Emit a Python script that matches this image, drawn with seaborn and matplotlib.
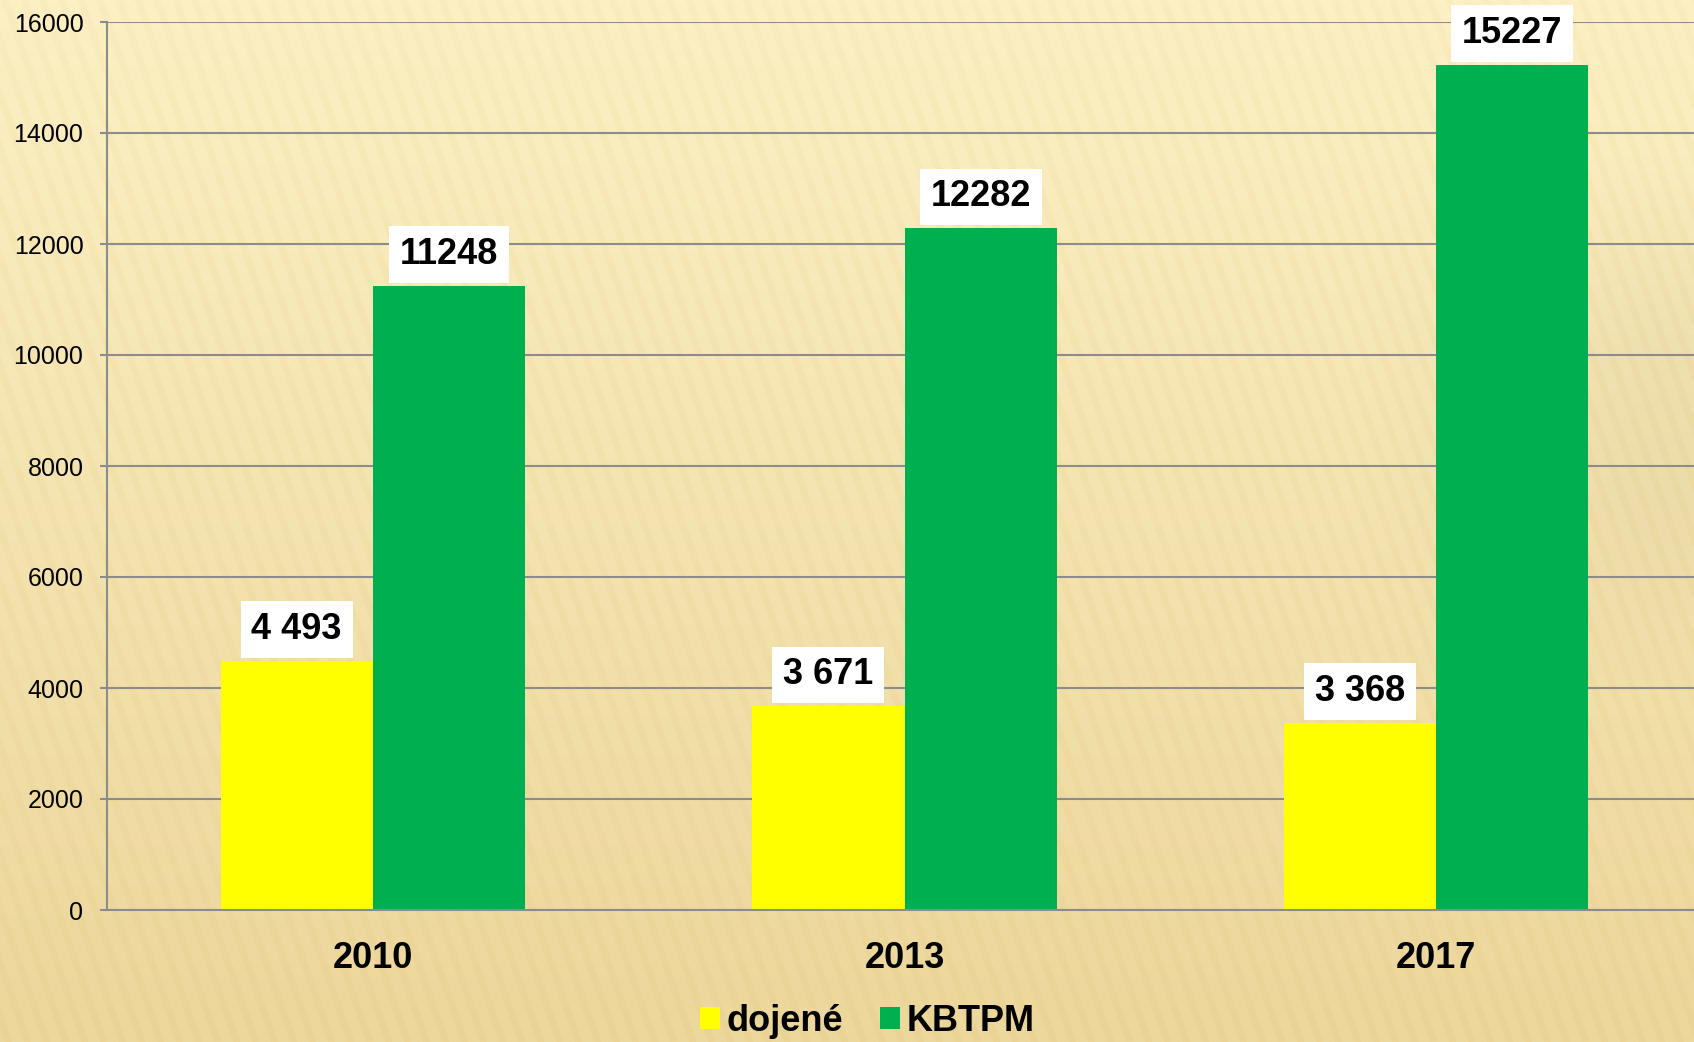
import pandas as pd
import seaborn as sns
import matplotlib.pyplot as plt
import numpy as np

years = ['2010', '2013', '2017']
dojene = [4493, 3671, 3368]
kbtpm = [11248, 12282, 15227]
dojene_labels = ['4 493', '3 671', '3 368']
kbtpm_labels = ['11248', '12282', '15227']

data = pd.DataFrame({
    'year': years * 2,
    'val': dojene + kbtpm,
    'series': ['dojené'] * 3 + ['KBTPM'] * 3,
})

sns.set_style("white")
plt.rcParams['font.family'] = ['Liberation Sans', 'DejaVu Sans']
plt.rcParams['text.color'] = 'black'
plt.rcParams['xtick.color'] = 'black'
plt.rcParams['ytick.color'] = 'black'

fig = plt.figure(figsize=(16.94, 10.42), dpi=100)

# background texture: warm gradient with slanted stripes
bg = fig.add_axes([0, 0, 1, 1], zorder=-10)
h, w = 1042, 1694
yy, xx = np.mgrid[0:h, 0:w]
t = yy / h
base = np.zeros((h, w, 3))
top = np.array([252, 240, 196]) / 255
bot = np.array([236, 215, 156]) / 255
for c in range(3):
    base[..., c] = top[c] * (1 - t) + bot[c] * t
stripes = np.sin(2 * np.pi * (xx - 0.35 * yy) / 19.0)
base -= (0.025 * (stripes > 0.3))[..., None] * np.array([0.3, 0.6, 1.0])
corner = np.clip((xx - 1350) / 300, 0, 1) * np.clip((yy - 150) / 200, 0, 1) * np.clip((700 - yy) / 200, 0, 1)
base -= (0.03 * corner)[..., None]
bg.imshow(np.clip(base, 0, 1), aspect='auto', interpolation='bilinear')
bg.axis('off')

ax = fig.add_axes([107 / 1694, 132 / 1042, 1595 / 1694, 888 / 1042])
ax.patch.set_alpha(0)

sns.barplot(x='year', y='val', hue='series', data=data,
            palette=['#FFFF00', '#00B050'], width=0.573, gap=0,
            saturation=1, linewidth=0, ax=ax)

ax.set_xlim(-0.5, 2.5)
ax.set_ylim(0, 16000)
ax.set_yticks(np.arange(0, 16001, 2000))
ax.set_yticklabels([str(v) for v in range(0, 16001, 2000)], fontsize=18)
ax.yaxis.grid(True, color='#8c8c8c', linewidth=1.5)
ax.set_axisbelow(True)
ax.set_xlabel('')
ax.set_ylabel('')
ax.set_xticks(range(3))
ax.set_xticklabels(years, fontsize=26, fontweight='bold')
ax.set_xticks([-0.5, 0.5, 1.5, 2.5], minor=True)
ax.tick_params(axis='x', which='major', length=0, pad=22)
ax.tick_params(axis='x', which='minor', length=7, width=1.5, color='#8c8c8c', direction='out')
ax.tick_params(axis='y', length=5, width=1.5, color='#8c8c8c', labelcolor='black',
               direction='out', pad=12, left=True)
for s in ['top', 'right']:
    ax.spines[s].set_visible(False)
ax.spines['left'].set_color('#8c8c8c')
ax.spines['left'].set_linewidth(1.5)
ax.spines['bottom'].set_color('#8c8c8c')
ax.spines['bottom'].set_linewidth(1.5)

box = dict(facecolor='white', edgecolor='none', boxstyle='square,pad=0.3')
for cont, labs in zip(ax.containers, [dojene_labels, kbtpm_labels]):
    ax.bar_label(cont, labels=labs, padding=10, fontsize=26, fontweight='bold',
                 color='black', bbox=box)

handles, labels = ax.get_legend_handles_labels()
ax.legend(handles, labels, loc='center', bbox_to_anchor=(0.512, 0.02),
          bbox_transform=fig.transFigure, ncol=2, frameon=False,
          prop={'size': 26, 'weight': 'bold'}, handlelength=0.55, handleheight=0.55,
          handletextpad=0.2, columnspacing=1.0, labelcolor='black')

plt.savefig('out.png', dpi=100)
